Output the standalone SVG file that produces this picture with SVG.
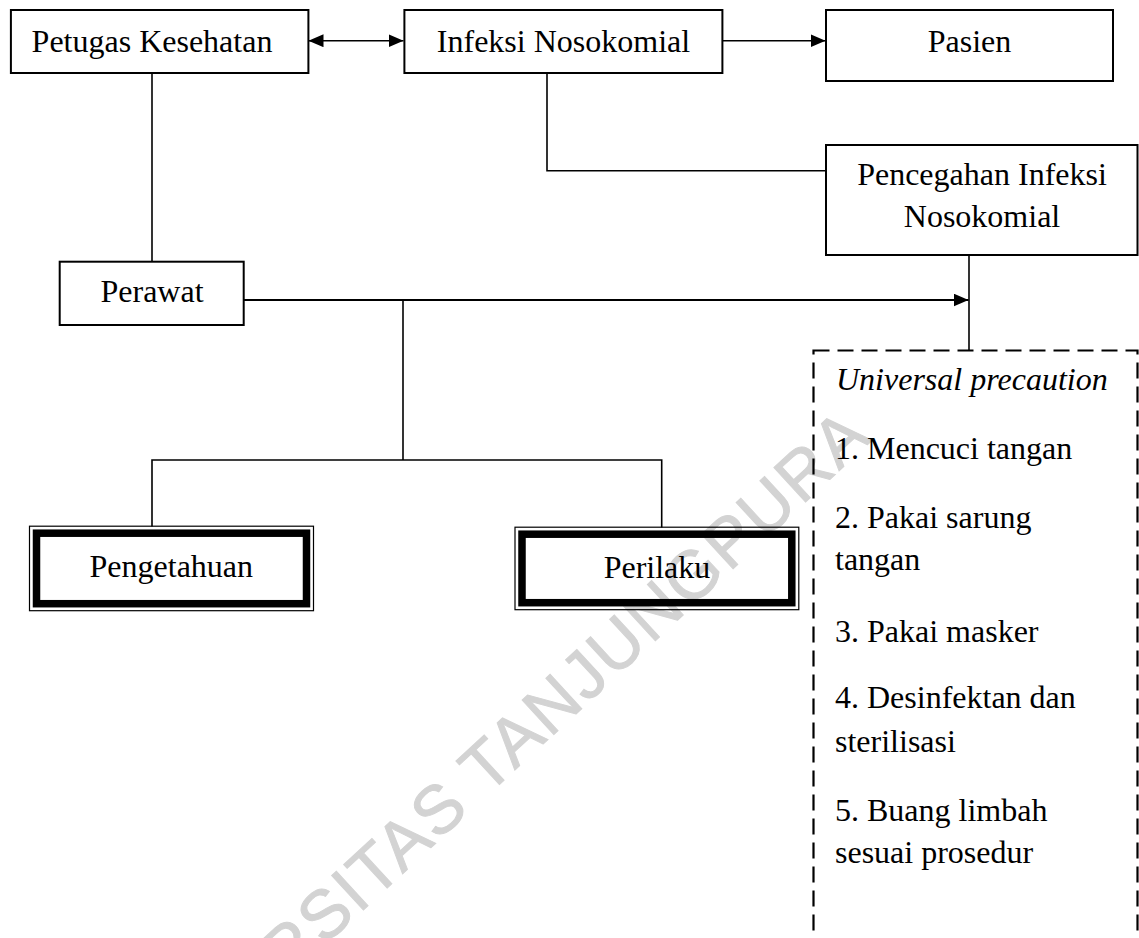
<svg xmlns="http://www.w3.org/2000/svg" width="1139" height="938" viewBox="0 0 1139 938">
<defs>
<style>
.box{fill:none;stroke:#000;stroke-width:2}
.thin{fill:none;stroke:#000;stroke-width:1.2}
.thick{fill:none;stroke:#000;stroke-width:7.5}
.dash{fill:none;stroke:#000;stroke-width:2.2;stroke-dasharray:16 8}
.ln{fill:none;stroke:#000;stroke-width:1.6}
.t{font-family:"Liberation Serif","Times New Roman",serif;font-size:32px;fill:#000}
.c{text-anchor:middle}
.it{font-style:italic}
.wm{font-family:"Liberation Sans",Arial,sans-serif;font-size:68px;letter-spacing:2px;fill:#d3d3d3;stroke:#d3d3d3;stroke-width:1}
</style>
<marker id="ah" markerWidth="15" markerHeight="13" refX="15" refY="6.5" orient="auto-start-reverse" markerUnits="userSpaceOnUse">
<path d="M0,0 L15,6.5 L0,13 z" fill="#000"/>
</marker>
</defs>
<rect width="1139" height="938" fill="#fff"/>
<text class="wm" transform="translate(126.4,1128.7) rotate(-42.7)" x="0" y="0">UNIVERSITAS TANJUNGPURA</text>

<g id="connectors">
<line class="ln" x1="308.5" y1="40.7" x2="403.5" y2="40.7" marker-start="url(#ah)" marker-end="url(#ah)"/>
<line class="ln" x1="722.5" y1="40.7" x2="825.5" y2="40.7" marker-end="url(#ah)"/>
<polyline class="ln" points="547,72.7 547,170.7 826,170.7"/>
<line class="ln" x1="152" y1="73.3" x2="152" y2="262"/>
<line class="ln" x1="969" y1="255" x2="969" y2="350"/>
<line class="ln" style="stroke-width:2" x1="244" y1="300" x2="968.5" y2="300" marker-end="url(#ah)"/>
<line class="ln" x1="403" y1="300" x2="403" y2="460"/>
<polyline class="ln" points="152,526.5 152,460 661.7,460 661.7,527.5"/>
</g>

<g id="petugas">
<rect class="box" x="10.9" y="10" width="297.5" height="63"/>
<text class="t c" x="152" y="51.7">Petugas Kesehatan</text>
</g>
<g id="infeksi">
<rect class="box" x="404.4" y="10" width="318" height="63"/>
<text class="t c" x="563.5" y="51.7">Infeksi Nosokomial</text>
</g>
<g id="pasien">
<rect class="box" x="826" y="10" width="287" height="71"/>
<text class="t c" x="969.5" y="51.7">Pasien</text>
</g>
<g id="pencegahan">
<rect class="box" x="826" y="145" width="311.5" height="110"/>
<text class="t c" x="982" y="185">Pencegahan Infeksi</text>
<text class="t c" x="982" y="226.7">Nosokomial</text>
</g>
<g id="perawat">
<rect class="box" x="59.7" y="261.7" width="184" height="63.3"/>
<text class="t c" x="152" y="302.3">Perawat</text>
</g>
<g id="pengetahuan">
<rect class="thin" x="29.5" y="526.2" width="284" height="84.5"/>
<rect class="thick" x="36.5" y="533.2" width="270" height="70.5"/>
<text class="t c" x="171.3" y="576.7">Pengetahuan</text>
</g>
<g id="perilaku">
<rect class="thin" x="515" y="527.2" width="283.8" height="82.5"/>
<rect class="thick" x="522" y="534.2" width="269.8" height="68.5"/>
<text class="t c" x="657" y="578.3">Perilaku</text>
</g>
<g id="universal">
<rect class="dash" x="813.5" y="350.5" width="324" height="650"/>
<text class="t it" x="836" y="390">Universal precaution</text>
<text class="t" x="835" y="459">1. Mencuci tangan</text>
<text class="t" x="835" y="528.3">2. Pakai sarung</text>
<text class="t" x="835" y="570">tangan</text>
<text class="t" x="835" y="641.7">3. Pakai masker</text>
<text class="t" x="835" y="708.3">4. Desinfektan dan</text>
<text class="t" x="835" y="751.7">sterilisasi</text>
<text class="t" x="835" y="820.7">5. Buang limbah</text>
<text class="t" x="835" y="863.3">sesuai prosedur</text>
</g>
</svg>
